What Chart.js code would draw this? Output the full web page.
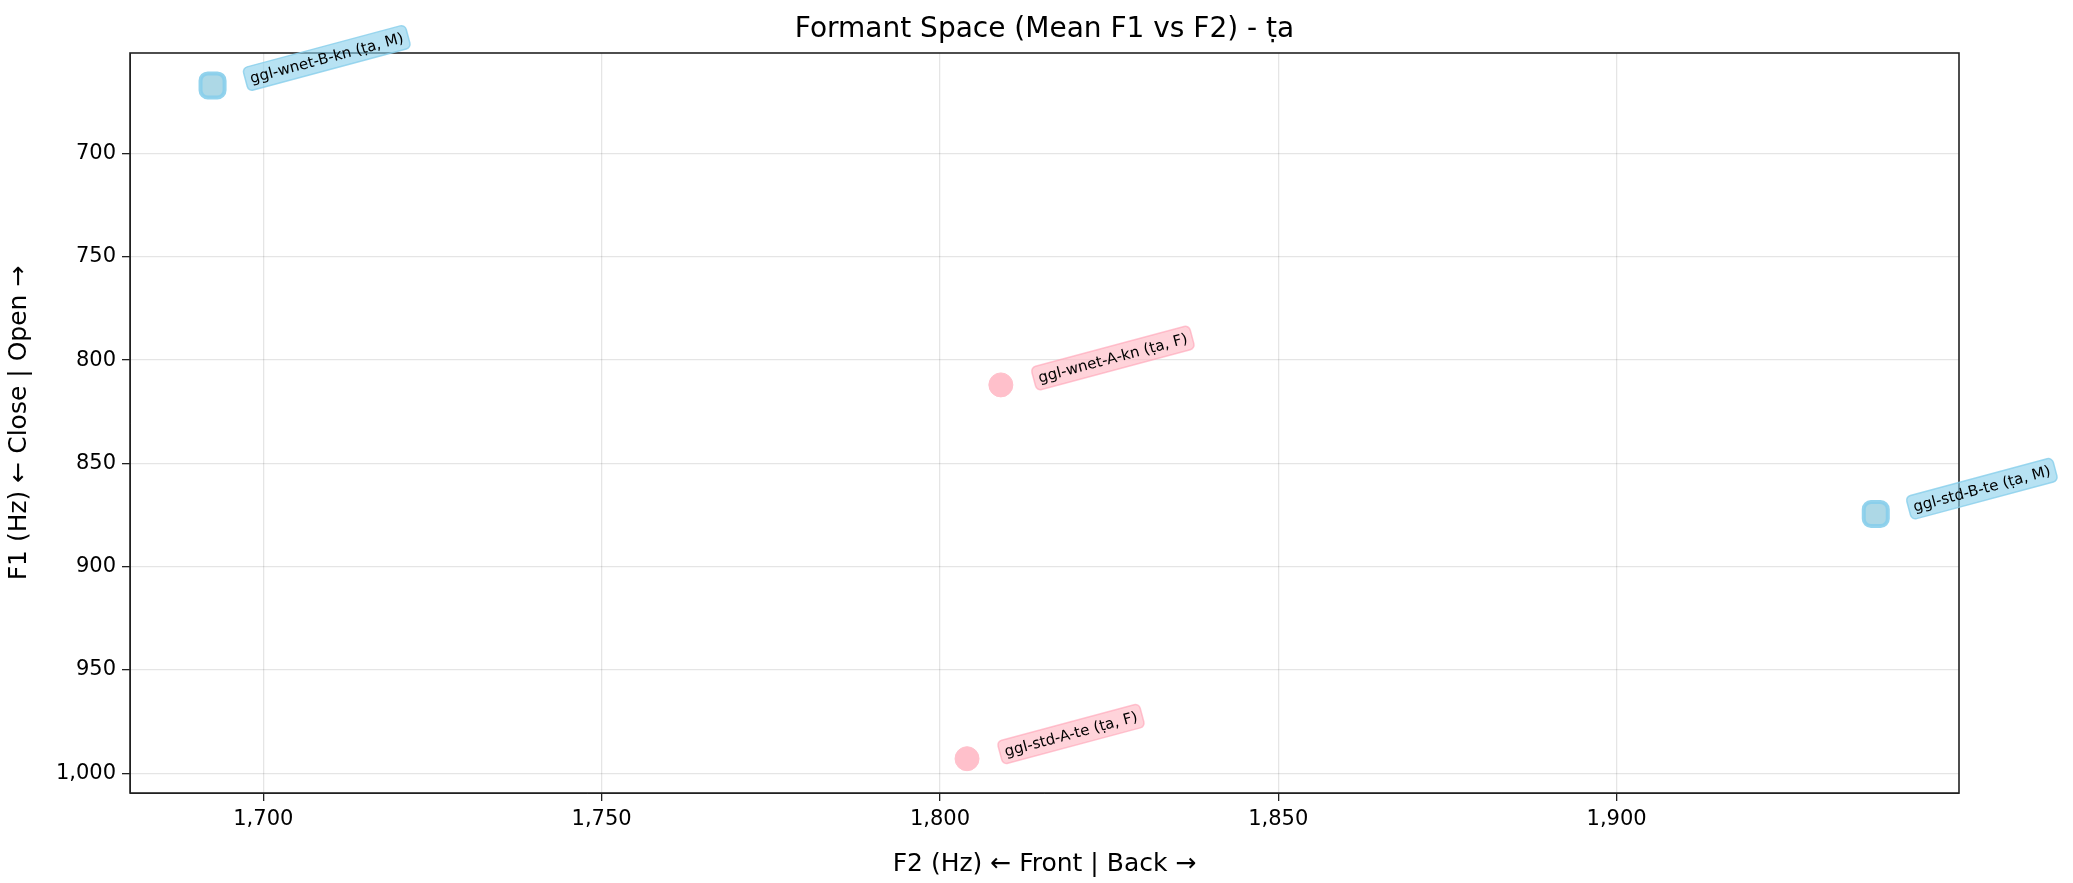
<!DOCTYPE html>
<html><head><meta charset="utf-8">
<script src="https://cdn.jsdelivr.net/npm/chart.js@4"></script>
<style>html,body{margin:0;padding:0;background:#fff}#w{width:2073px;height:883px}</style>
</head><body><div id="w"><canvas id="c"></canvas></div>
<script>
const labels = ["ggl-wnet-B-kn (ṭa, M)", "ggl-wnet-A-kn (ṭa, F)", "ggl-std-B-te (ṭa, M)", "ggl-std-A-te (ṭa, F)"];
const f2Values = [1692.5, 1809, 1938.3, 1804];
const f1Values = [667, 812, 874.5, 993];
const genders = ["M", "F", "M", "F"];
const xTicks = [1700, 1750, 1800, 1850, 1900];
const yTicks = [700, 750, 800, 850, 900, 950, 1000];
const FONT = "'DejaVu Sans', sans-serif";

function mkSet(g) {
  const pts = [], lab = [];
  f2Values.forEach((x, i) => { if (genders[i] === g) { pts.push({x, y: f1Values[i]}); lab.push(labels[i]); } });
  const male = g === "M";
  return {
    data: pts, labelsText: lab,
    pointStyle: male ? 'rectRounded' : 'circle',
    pointRadius: male ? 14 : 12,
    backgroundColor: male ? 'rgba(173,216,230,1)' : 'rgba(255,192,203,1)',
    borderColor: male ? 'rgba(135,206,235,0.9)' : 'rgba(255,192,203,1)',
    borderWidth: male ? 4 : 1,
    boxColor: male ? 'rgba(135,206,235,0.6)' : 'rgba(255,182,193,0.6)',
    boxEdge: male ? 'rgba(135,206,235,0.8)' : 'rgba(255,160,180,0.6)'
  };
}

const annot = {
  id: 'annot',
  afterDatasetsDraw(chart) {
    const ctx = chart.ctx, xs = chart.scales.x, ys = chart.scales.y, a = chart.chartArea;
    ctx.save();
    ctx.strokeStyle = '#222'; ctx.lineWidth = 1.6;
    ctx.strokeRect(a.left, a.top, a.right - a.left, a.bottom - a.top);
    ctx.font = '15px ' + FONT;
    chart.data.datasets.forEach(ds => {
      ds.data.forEach((p, i) => {
        const px = xs.getPixelForValue(p.x), py = ys.getPixelForValue(p.y);
        const t = ds.labelsText[i];
        ctx.save();
        ctx.translate(px + 38, py - 6);
        ctx.rotate(-15 * Math.PI / 180);
        const w = ctx.measureText(t).width;
        ctx.beginPath();
        ctx.roundRect(-5, -13, w + 10, 24, 5);
        ctx.fillStyle = ds.boxColor; ctx.fill();
        ctx.strokeStyle = ds.boxEdge; ctx.lineWidth = 1.5; ctx.stroke();
        ctx.fillStyle = '#000'; ctx.textBaseline = 'middle'; ctx.textAlign = 'left';
        ctx.fillText(t, 0, 0);
        ctx.restore();
      });
    });
    ctx.fillStyle = '#000'; ctx.font = '28px ' + FONT; ctx.textAlign = 'center'; ctx.textBaseline = 'middle';
    ctx.fillText('Formant Space (Mean F1 vs F2) - ṭa', (a.left + a.right) / 2, 30);
    ctx.restore();
  }
};

new Chart(document.getElementById('c'), {
  type: 'scatter',
  data: { datasets: [mkSet("M"), mkSet("F")] },
  options: {
    responsive: true, maintainAspectRatio: false, animation: false,
    layout: { padding: { top: 53, right: 114, left: 0, bottom: 0 } },
    plugins: { legend: { display: false }, tooltip: { enabled: false } },
    scales: {
      x: {
        type: 'linear', min: 1680.3, max: 1950.6,
        afterBuildTicks: s => { s.ticks = xTicks.map(v => ({value: v})); },
        afterFit: s => { s.height = 90; },
        grid: { color: 'rgba(0,0,0,0.1)', tickColor: '#222', tickLength: 8, lineWidth: 1.3 },
        border: { color: '#222' },
        ticks: { color: '#000', font: { size: 21, family: FONT }, padding: 6 },
        title: { display: true, text: 'F2 (Hz) ← Front | Back →', color: '#000', font: { size: 25, family: FONT }, padding: { top: 4 } }
      },
      y: {
        type: 'linear', reverse: true, min: 651.3, max: 1009.6,
        afterBuildTicks: s => { s.ticks = yTicks.map(v => ({value: v})); },
        afterFit: s => { s.width = 130; },
        grid: { color: 'rgba(0,0,0,0.1)', tickColor: '#222', tickLength: 8, lineWidth: 1.3 },
        border: { color: '#222' },
        ticks: { color: '#000', font: { size: 21, family: FONT }, padding: 6 },
        title: { display: true, text: 'F1 (Hz) ← Close | Open →', color: '#000', font: { size: 25, family: FONT }, padding: { bottom: 8 } }
      }
    }
  },
  plugins: [annot]
});
</script></body></html>
